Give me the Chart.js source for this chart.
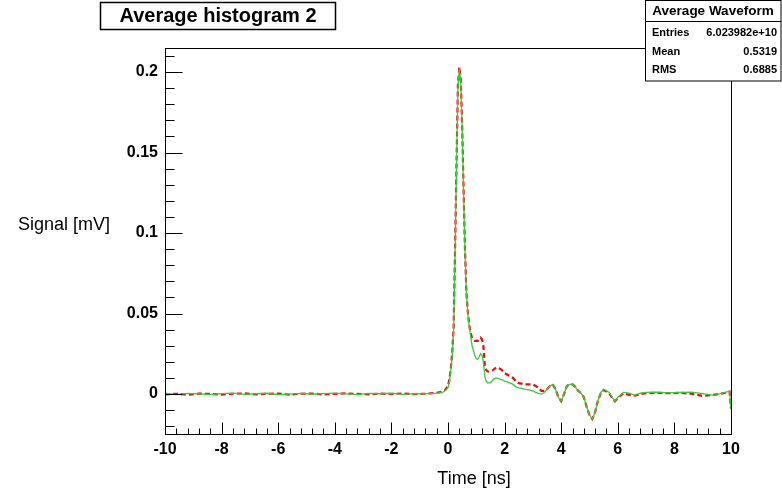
<!DOCTYPE html>
<html>
<head>
<meta charset="utf-8">
<script src="https://cdn.jsdelivr.net/npm/chart.js@4/dist/chart.umd.min.js"></script>
<style>
html,body{margin:0;padding:0;background:#fff;}
canvas{display:block;}
</style>
</head>
<body>
<canvas id="c" width="782" height="489"></canvas>
<script>
// ---- data ----
const times = [
  -10,-9.6,-9.2,-8.8,-8.4,-8,-7.6,-7.2,-6.8,-6.4,-6,-5.6,-5.2,-4.8,-4.4,-4,-3.6,-3.2,-2.8,-2.4,-2,-1.6,-1.2,-0.8,-0.4,
  -0.2,-0.1,
  0,0.05,0.1,0.15,0.2,0.25,0.3,0.35,0.4,0.45,0.5,0.55,0.6,0.65,0.7,0.75,0.8,0.85,0.9,0.95,1.0,1.05,1.1,1.15,1.2,1.25,1.3,1.35,
  1.4,1.5,1.6,1.7,1.8,1.9,2.0,2.1,2.2,2.3,2.4,2.5,2.6,2.7,2.8,2.9,3.0,3.1,3.2,3.3,3.4,3.5,3.6,3.7,3.8,3.9,4.0,4.1,4.2,4.3,4.4,4.5,4.6,4.7,4.8,4.9,5.0,5.1,5.2,5.3,5.4,5.5,5.6,5.7,5.8,5.9,6.0,
  6.2,6.4,6.6,6.8,7.0,7.4,7.8,8.2,8.6,9.0,9.4,9.8,9.95,10
];
const greenValues = [
  0.0005,-0.0003,0.0004,0.0001,-0.0004,0.0003,0.0006,-0.0002,0.0002,0.0005,-0.0003,0.0000,0.0004,-0.0001,0.0003,0.0006,0.0001,-0.0003,0.0004,0.0002,0.0005,-0.0002,0.0003,0.0001,0.0006,
  0.001,0.002,
  0.004,0.008,0.015,0.024,0.04,0.088,0.14,0.19,0.202,0.194,0.165,0.125,0.089,0.062,0.05,0.042,0.036,0.030,0.027,0.024,0.022,0.0215,0.023,0.025,0.024,0.020,0.011,0.008,
  0.007,0.007,0.009,0.010,0.0095,0.009,0.008,0.0075,0.0068,0.006,0.0045,0.0038,0.0035,0.003,0.0028,0.0025,0.002,0.001,0.0005,0.0,0.001,0.003,0.005,0.006,0.003,-0.002,-0.0044,0.0,0.005,0.006,0.006,0.0045,0.002,0.0005,-0.002,-0.008,-0.013,-0.0155,-0.011,-0.004,0.001,0.003,0.002,0.001,-0.002,-0.0044,-0.002,
  0.001,0.0005,-0.0008,0.0005,0.001,0.0012,0.0008,0.001,0.0012,0.0003,-0.0008,0.001,0.0018,-0.009
];
const redValues = [
  -0.0002,0.0002,-0.0004,0.0003,0.0001,-0.0003,0.0002,0.0004,-0.0002,0.0001,0.0003,-0.0004,0.0002,0.0003,-0.0003,0.0001,0.0004,0.0001,-0.0002,0.0003,0.0000,0.0004,-0.0001,0.0002,0.0008,
  0.0015,0.0025,
  0.005,0.009,0.016,0.026,0.042,0.09,0.142,0.192,0.203,0.196,0.167,0.127,0.09,0.063,0.051,0.043,0.038,0.035,0.034,0.033,0.033,0.033,0.034,0.035,0.034,0.030,0.018,0.015,
  0.014,0.014,0.015,0.0165,0.016,0.015,0.013,0.012,0.011,0.010,0.008,0.0068,0.0065,0.006,0.006,0.006,0.006,0.005,0.004,0.002,0.002,0.003,0.005,0.006,0.003,-0.002,-0.0044,0.0,0.005,0.006,0.006,0.0045,0.002,0.0005,-0.002,-0.008,-0.013,-0.0155,-0.011,-0.004,0.0005,0.0025,0.0015,0.0005,-0.0025,-0.0045,-0.0025,
  0.0005,-0.0005,-0.001,0.0,0.0005,0.0008,0.0005,0.0008,0.0002,-0.0012,-0.0005,0.0008,0.0015,-0.009
];
const xTicks = [-10,-8,-6,-4,-2,0,2,4,6,8,10];
const xTickLabels = ['-10','-8','-6','-4','-2','0','2','4','6','8','10'];
const yTicks = [0,0.05,0.1,0.15,0.2];
const yTickLabels = ['0','0.05','0.1','0.15','0.2'];
const titleText = 'Average histogram 2';
const statsTitle = 'Average Waveform';
const statsRows = [['Entries','6.023982e+10'],['Mean','0.5319'],['RMS','0.6885']];
const xTitle = 'Time [ns]';
const yTitle = 'Signal [mV]';

// ---- styling ----
const FONT = '"Liberation Sans", Arial, Helvetica, sans-serif';
const X_MIN = -10, X_MAX = 10, Y_MIN = -0.0248, Y_MAX = 0.2149;

const rootFrame = {
  id: 'rootFrame',
  beforeDraw(chart) {
    const ctx = chart.ctx;
    ctx.save();
    ctx.fillStyle = '#fff';
    ctx.fillRect(0, 0, chart.width, chart.height);
    ctx.restore();
  },
  afterDraw(chart) {
    const {ctx, chartArea: a, scales: {x, y}} = chart;
    ctx.save();
    ctx.strokeStyle = '#000';
    ctx.lineWidth = 1;
    const L = Math.round(a.left) + 0.5, R = Math.round(a.right) + 0.5;
    const T = Math.round(a.top) + 0.5, B = Math.round(a.bottom) + 0.5;
    ctx.strokeRect(L, T, R - L, B - T);
    ctx.beginPath();
    // x ticks (inside, pointing up)
    for (let v = X_MIN; v <= X_MAX + 1e-9; v += 0.4) {
      const px = Math.round(x.getPixelForValue(v)) + 0.5;
      const major = Math.abs(v / 2 - Math.round(v / 2)) < 1e-6;
      ctx.moveTo(px, B);
      ctx.lineTo(px, B - (major ? 12 : 6));
    }
    // y ticks (inside, pointing right)
    for (let k = -2; k <= 21; k++) {
      const v = k * 0.01;
      if (v < Y_MIN || v > Y_MAX) continue;
      const py = Math.round(y.getPixelForValue(v)) + 0.5;
      const major = k % 5 === 0;
      ctx.moveTo(L, py);
      ctx.lineTo(L + (major ? 17 : 9), py);
    }
    ctx.stroke();

    // axis titles
    ctx.fillStyle = '#000';
    ctx.font = '18px ' + FONT;
    ctx.textBaseline = 'middle';
    ctx.textAlign = 'left';
    ctx.fillText(yTitle, 18, 225);
    ctx.textAlign = 'center';
    ctx.fillText(xTitle, 474, 479);

    // title box
    ctx.fillStyle = '#fff';
    ctx.fillRect(100, 2, 236, 28);
    ctx.lineWidth = 1.5;
    ctx.strokeRect(100.5, 2.5, 235, 27);
    ctx.fillStyle = '#000';
    ctx.font = 'bold 20px ' + FONT;
    ctx.textAlign = 'center';
    ctx.fillText(titleText, 218, 16);

    // stats box
    ctx.lineWidth = 1;
    ctx.fillStyle = '#fff';
    ctx.fillRect(645, 0, 137, 81);
    ctx.strokeRect(645.5, 0.5, 135.5, 80.5);
    ctx.beginPath();
    ctx.moveTo(645.5, 21.5); ctx.lineTo(781, 21.5);
    ctx.stroke();
    ctx.fillStyle = '#000';
    ctx.font = 'bold 13.5px ' + FONT;
    ctx.textAlign = 'center';
    ctx.fillText(statsTitle, 713, 11.5);
    ctx.font = 'bold 11px ' + FONT;
    const rowY = [33, 52, 70];
    statsRows.forEach((r, i) => {
      ctx.textAlign = 'left';
      ctx.fillText(r[0], 652, rowY[i]);
      ctx.textAlign = 'right';
      ctx.fillText(r[1], 777, rowY[i]);
    });
    ctx.restore();
  }
};

new Chart(document.getElementById('c'), {
  type: 'line',
  data: {
    datasets: [
      {
        label: 'green',
        data: times.map((t, i) => ({x: t, y: greenValues[i]})),
        borderColor: '#3cc83c',
        borderWidth: 1.3,
        pointRadius: 0,
        tension: 0,
        order: 0
      },
      {
        label: 'red',
        data: times.map((t, i) => ({x: t, y: redValues[i]})),
        borderColor: '#e01010',
        borderWidth: 2.2,
        borderDash: [5, 3],
        pointRadius: 0,
        tension: 0,
        order: 1
      }
    ]
  },
  options: {
    responsive: false,
    devicePixelRatio: 1,
    animation: false,
    layout: {padding: {top: 48, right: 51, left: 0, bottom: 0}},
    plugins: {legend: {display: false}, tooltip: {enabled: false}, title: {display: false}},
    scales: {
      x: {
        type: 'linear', min: X_MIN, max: X_MAX,
        afterBuildTicks: sc => { sc.ticks = xTicks.map(v => ({value: v})); },
        afterFit: sc => { sc.height = 489 - 434; },
        ticks: {
          callback: v => xTickLabels[xTicks.indexOf(v)],
          font: {family: FONT, weight: 'bold', size: 16},
          color: '#000', padding: 6, maxRotation: 0, autoSkip: false
        },
        grid: {display: false, drawTicks: false},
        border: {display: false}
      },
      y: {
        type: 'linear', min: Y_MIN, max: Y_MAX,
        afterBuildTicks: sc => { sc.ticks = yTicks.map(v => ({value: v})); },
        afterFit: sc => { sc.width = 165; },
        ticks: {
          callback: v => yTickLabels[yTicks.indexOf(v)],
          font: {family: FONT, weight: 'bold', size: 16},
          color: '#000', padding: 7, autoSkip: false
        },
        grid: {display: false, drawTicks: false},
        border: {display: false}
      }
    }
  },
  plugins: [rootFrame]
});
</script>
</body>
</html>
